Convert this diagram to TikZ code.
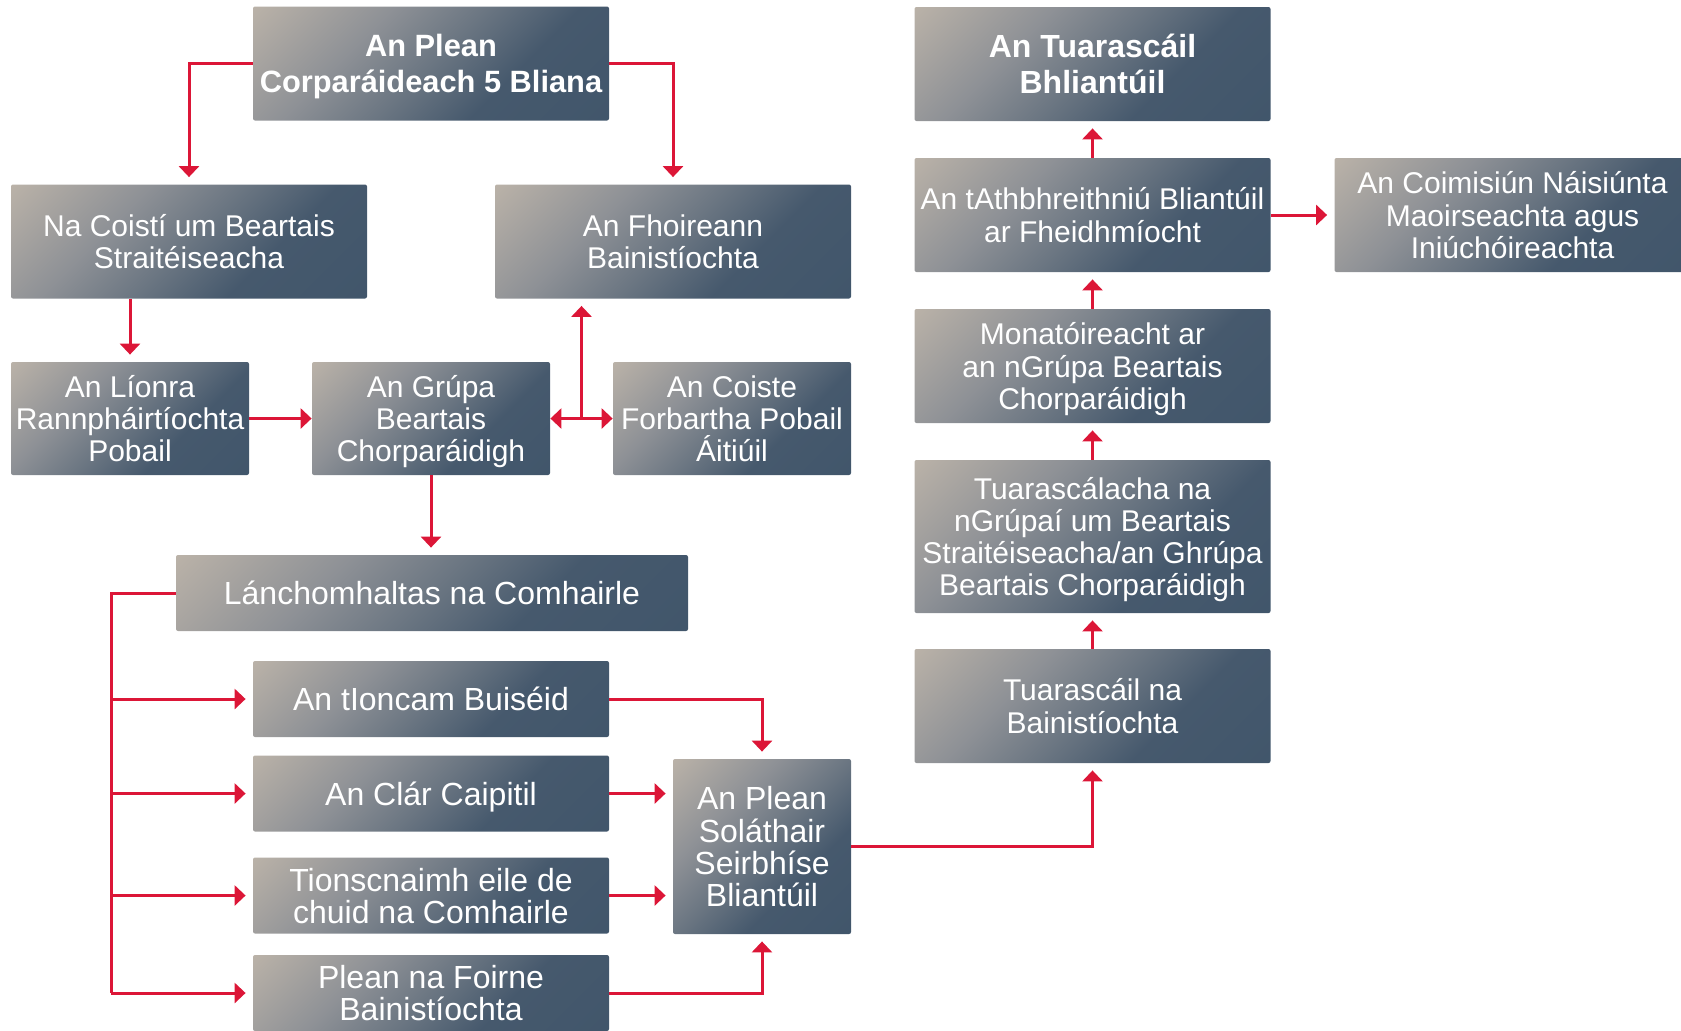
\documentclass[tikz,border=0pt]{standalone}
\usepackage{fontspec}
\setmainfont{Liberation Sans}
\usetikzlibrary{arrows.meta,calc}
\definecolor{arrred}{RGB}{220,22,55}
\definecolor{gA}{HTML}{BAB2A8}
\definecolor{gB}{HTML}{8E9196}
\definecolor{gC}{HTML}{6B7682}
\definecolor{gD}{HTML}{46596D}
\definecolor{gE}{HTML}{41566B}
\pgfdeclarehorizontalshading{boxshade}{100bp}{color(0bp)=(gA); color(14.6bp)=(gA); color(35.8bp)=(gB); color(50bp)=(gC); color(64.2bp)=(gD); color(85.4bp)=(gE); color(100bp)=(gE)}
\tikzset{
  box/.style={shade, shading=boxshade, shading angle=-45, rounded corners=1pt, text=white, align=center, inner sep=0pt, text depth=0pt, font=\fontsize{15}{16.1}\selectfont},
  bigf/.style={font=\fontsize{16}{16.1}\selectfont},
  boldbox/.style={box, font=\fontsize{15.4}{18.2}\selectfont\bfseries},
  wbox/.style={minimum width=178pt, minimum height=57pt},
  lbox/.style={minimum width=119pt, minimum height=56.5pt},
  sbox/.style={minimum width=178pt, minimum height=38pt},
  conn/.style={draw=arrred, line width=1.5pt},
  arr/.style={conn, -{Triangle[length=5.5pt,width=10pt]}, shorten >=3.5pt},
  arrt/.style={conn, -{Triangle[length=5.5pt,width=10pt]}},
  arrb/.style={conn, {Triangle[length=5.5pt,width=10pt]}-{Triangle[length=5.5pt,width=10pt]}},
}
\begin{document}
\begin{tikzpicture}[x=0.5pt, y=-0.5pt]
\useasboundingbox (0,0) rectangle (1681,1030);
% nodes
\node[boldbox, wbox] (plean) at (431,63.5) {An Plean\\Corparáideach 5 Bliana};
\node[box, wbox] (coisti) at (189,241.5) {Na Coistí um Beartais\\Straitéiseacha};
\node[box, wbox] (fhoireann) at (673,241.5) {An Fhoireann\\Bainistíochta};
\node[box, lbox] (lionra) at (130,418.5) {An Líonra\\Rannpháirtíochta\\Pobail};
\node[box, lbox] (grupa) at (431,418.5) {An Grúpa\\Beartais\\Chorparáidigh};
\node[box, lbox] (coiste) at (732,418.5) {An Coiste\\Forbartha Pobail\\Áitiúil};
\node[box, bigf, minimum width=256pt, minimum height=38pt] (lanch) at (432,593) {Lánchomhaltas na Comhairle};
\node[box, bigf, sbox] (ioncam) at (431,699) {An tIoncam Buiséid};
\node[box, bigf, sbox] (clar) at (431,793.5) {An Clár Caipitil};
\node[box, bigf, sbox] (tion) at (431,895.5) {Tionscnaimh eile de\\chuid na Comhairle};
\node[box, bigf, sbox] (foirne) at (431,993) {Plean na Foirne\\Bainistíochta};
\node[box, bigf, minimum width=89pt, minimum height=87.5pt] (solathair) at (762,846.5) {An Plean\\Soláthair\\Seirbhíse\\Bliantúil};
\node[boldbox, wbox, font=\fontsize{16}{18.2}\selectfont\bfseries] (tuar) at (1092.5,64) {An Tuarascáil\\Bhliantúil};
\node[box, wbox] (athbh) at (1092.5,215) {An tAthbhreithniú Bliantúil\\ar Fheidhmíocht};
\node[box, wbox] (monat) at (1092.5,366) {Monatóireacht ar\\an nGrúpa Beartais\\Chorparáidigh};
\node[box, wbox, minimum height=76.5pt] (tgrup) at (1092.5,536.5) {Tuarascálacha na\\nGrúpaí um Beartais\\Straitéiseacha/an Ghrúpa\\Beartais Chorparáidigh};
\node[box, wbox] (tbain) at (1092.5,706) {Tuarascáil na\\Bainistíochta};
\node[box, wbox] (coimis) at (1512.5,215) {An Coimisiún Náisiúnta\\Maoirseachta agus\\Iniúchóireachta};
% connectors
\draw[arr] (plean.west) -| (coisti.north);
\draw[arr] (plean.east) -| (fhoireann.north);
\draw[arr] (lionra.north |- coisti.south) -- (lionra.north);
\draw[arrt] (lionra.east) -- (grupa.west);
\draw[arrb] (grupa.east) -- (coiste.west);
\coordinate (mid) at ($(grupa.east)!0.5!(coiste.west)$);
\draw[arr] (mid) -- (mid |- fhoireann.south);
\draw[arr] (grupa.south) -- (grupa.south |- lanch.north);
\coordinate (bus) at (111,593);
\draw[conn] (lanch.west) -- (bus) -- (bus |- foirne.west);
\draw[arr] (bus |- ioncam.west) -- (ioncam.west);
\draw[arr] (bus |- clar.west) -- (clar.west);
\draw[arr] (bus |- tion.west) -- (tion.west);
\draw[arr] (bus |- foirne.west) -- (foirne.west);
\draw[arr] (ioncam.east) -| (solathair.north);
\draw[arr] (clar.east) -- (clar.east -| solathair.west);
\draw[arr] (tion.east) -- (tion.east -| solathair.west);
\draw[arr] (foirne.east) -| (solathair.south);
\draw[arr] (solathair.east) -| (tbain.south);
\draw[arr] (tbain.north) -- (tgrup.south);
\draw[arr] (tgrup.north) -- (monat.south);
\draw[arr] (monat.north) -- (athbh.south);
\draw[arr] (athbh.north) -- (tuar.south);
\draw[arr] (athbh.east) -- (coimis.west);
\end{tikzpicture}
\end{document}
